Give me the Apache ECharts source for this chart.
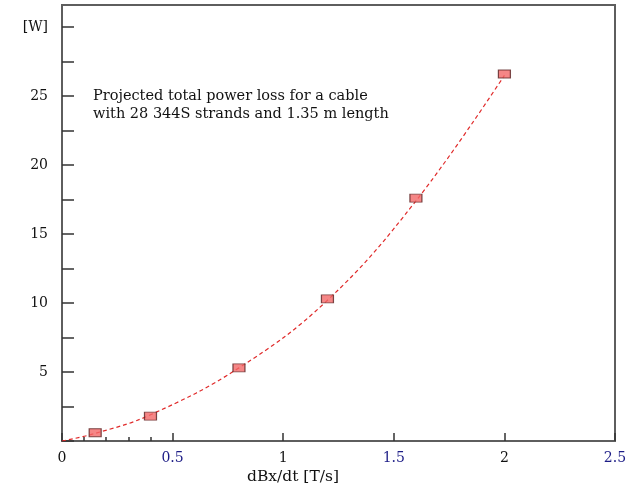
<!DOCTYPE html>
<html>
<head>
<meta charset="utf-8">
<script src="https://cdn.jsdelivr.net/npm/echarts@6/dist/echarts.min.js"></script>
<style>
  html, body { margin: 0; padding: 0; background: #fff; }
  #main { width: 641px; height: 487px; }
</style>
</head>
<body>
<div id="main"></div>
<script>
// measured points
var dbdt = [0.15, 0.4, 0.8, 1.2, 1.6, 2.0];
var power = [0.6, 1.8, 5.3, 10.3, 17.6, 26.6];
// fitted curve (dashed), through the origin
var fitX = [0, 0.15, 0.4, 0.8, 1.2, 1.6, 2.0];
var fitY = [0, 0.55, 1.9, 5.3, 10.2, 17.4, 26.5];
var xTicks = ['0', '0.5', '1', '1.5', '2', '2.5'];
var blueTicks = ['0.5', '1.5', '2.5'];

var FONT = '"DejaVu Serif", "Liberation Serif", serif';
var FRAME = '#5e5e5e';

var dom = document.getElementById('main');
var myChart = echarts.init(dom, null, { renderer: 'canvas' });

var pts = [];
for (var i = 0; i < dbdt.length; i++) {
    pts.push([dbdt[i], power[i]]);
}
var fit = [];
for (var j = 0; j < fitX.length; j++) {
    fit.push([fitX[j], fitY[j]]);
}

var option = {
    animation: false,
    backgroundColor: '#fff',
    title: [
        {
            text: 'Projected total power loss for a cable\nwith 28 344S strands and 1.35 m length',
            left: 93,
            top: 87,
            padding: 0,
            textStyle: {
                fontFamily: FONT,
                fontSize: 14.5,
                fontWeight: 'normal',
                color: '#111',
                lineHeight: 18
            }
        },
        {
            text: 'dBx/dt [T/s]',
            left: 247,
            top: 469,
            padding: 0,
            textStyle: {
                fontFamily: FONT,
                fontSize: 15.5,
                fontWeight: 'normal',
                color: '#111'
            }
        }
    ],
    grid: [
        {
            left: 62, right: 26, top: 5, bottom: 46,
            show: true,
            borderColor: FRAME,
            borderWidth: 2
        },
        {
            // small grid used only for the minor ticks between 0 and 0.5
            left: 62, width: 110.6, top: 5, bottom: 46
        }
    ],
    xAxis: [
        {
            type: 'value',
            gridIndex: 0,
            min: 0,
            max: 2.5,
            interval: 0.5,
            axisLine: { show: true, lineStyle: { color: FRAME, width: 2 } },
            axisTick: { show: true, inside: true, length: 8, lineStyle: { color: '#333', width: 1.5 } },
            splitLine: { show: false },
            axisLabel: {
                margin: 10,
                fontFamily: FONT,
                fontSize: 14,
                formatter: function (v) {
                    return xTicks[Math.round(v / 0.5)];
                },
                color: function (v) {
                    var s = xTicks[Math.round(v / 0.5)];
                    return blueTicks.indexOf(s) >= 0 ? '#1c1c86' : '#111';
                }
            }
        },
        {
            type: 'value',
            gridIndex: 1,
            min: 0,
            max: 0.5,
            interval: 0.1,
            axisLine: { show: false },
            axisTick: { show: true, inside: true, length: 4, lineStyle: { color: '#333', width: 1.5 } },
            axisLabel: { show: false },
            splitLine: { show: false }
        }
    ],
    yAxis: [
        {
            type: 'value',
            gridIndex: 0,
            min: 0,
            max: 31.6,
            interval: 2.5,
            axisLine: { show: true, lineStyle: { color: FRAME, width: 2 } },
            axisTick: { show: true, inside: true, length: 12, lineStyle: { color: '#333', width: 1.5 } },
            splitLine: { show: false },
            axisLabel: {
                margin: 14,
                fontFamily: FONT,
                fontSize: 14,
                color: '#111',
                showMaxLabel: false,
                formatter: function (v) {
                    if (v === 30) return '[W]';
                    if (v > 0 && v % 5 === 0) return String(v);
                    return '';
                }
            }
        },
        {
            type: 'value',
            gridIndex: 1,
            show: false,
            min: 0,
            max: 31.6
        }
    ],
    series: [
        {
            name: 'fit',
            type: 'line',
            xAxisIndex: 0,
            yAxisIndex: 0,
            data: fit,
            smooth: 0.4,
            showSymbol: false,
            symbol: 'none',
            lineStyle: { color: '#e02a2a', width: 1.2, type: [4, 3] },
            z: 2
        },
        {
            name: 'loss',
            type: 'scatter',
            xAxisIndex: 0,
            yAxisIndex: 0,
            data: pts,
            symbol: 'rect',
            symbolSize: [12, 8],
            itemStyle: {
                color: '#f26868',
                borderColor: '#5a2222',
                borderWidth: 1
            },
            z: 3
        }
    ]
};

myChart.setOption(option);
</script>
</body>
</html>
